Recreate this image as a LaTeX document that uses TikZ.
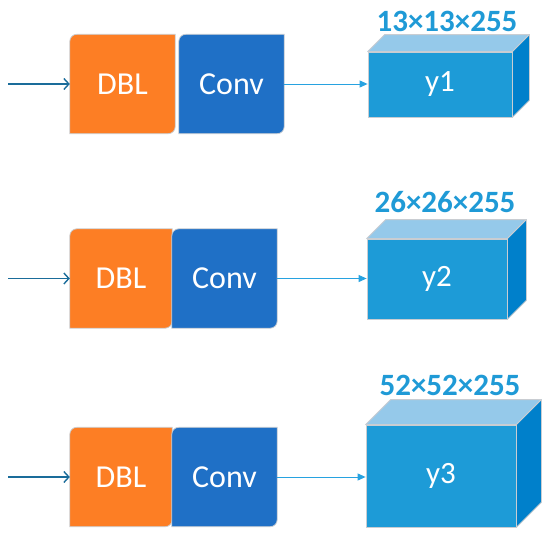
\documentclass[tikz,border=0pt]{standalone}
\usepackage{fontspec}
\setmainfont{Carlito}
\usepackage{tikz}
\usetikzlibrary{positioning, arrows.meta, calc}
\definecolor{dblorange}{HTML}{FD7E24}
\definecolor{convblue}{HTML}{1F70C6}
\definecolor{cubefront}{HTML}{1D9BD7}
\definecolor{cubetop}{HTML}{95C9EA}
\definecolor{cubeside}{HTML}{0080CB}
\definecolor{edgegray}{HTML}{C9CDD2}
\definecolor{inblue}{HTML}{1A6C9A}
\definecolor{outblue}{HTML}{27A2E0}
\definecolor{dimblue}{HTML}{1F9AD6}
\tikzset{
  layerbox/.style={
    rectangle, minimum width=#1, minimum height=99pt, inner sep=0pt,
    text=white, font=\fontsize{32}{34}\selectfont
  },
  featbox/.style={
    rectangle, draw=edgegray, line width=0.8pt, fill=cubefront, inner sep=0pt,
    text=white, font=\fontsize{31}{33}\selectfont
  },
  dimlabel/.style={font=\fontsize{31}{33}\selectfont\bfseries, text=dimblue},
  inarrow/.style={-{Straight Barb[length=5pt, width=11pt, line width=1.4pt]}, inblue, line width=1.6pt},
  outarrow/.style={-{Triangle[length=8pt, width=7pt]}, outblue, line width=1pt},
  cubeedge/.style={draw=edgegray, line width=0.8pt, line join=round}
}
% box with rounded top-left and bottom-right corners
\newcommand{\diagbox}[2]{%
  \draw[edgegray, line width=0.8pt, fill=#2]
    (#1.south west) -- ([yshift=-7pt]#1.north west)
    arc[start angle=180, end angle=90, radius=7pt]
    -- (#1.north east) -- ([yshift=7pt]#1.south east)
    arc[start angle=0, end angle=-90, radius=7pt] -- cycle;
}
% top and side faces of a feature cube
\newcommand{\cubefaces}[2]{%
  \fill[cubetop, cubeedge] (#1.north west) -- ++(#2pt,#2pt) -- ([shift={(#2pt,#2pt)}]#1.north east)
    -- (#1.north east) -- cycle;
  \fill[cubeside, cubeedge] (#1.north east) -- ++(#2pt,#2pt) -- ([shift={(#2pt,#2pt)}]#1.south east)
    -- (#1.south east) -- cycle;
}
\begin{document}
\begin{tikzpicture}[x=1pt, y=-1pt]
\useasboundingbox (0,0) rectangle (550,536);

% Row positions (y-coords of the box centres)
\def\yone{84}
\def\ytwo{278.5}
\def\ythree{477}

% ---- Row 1 ----
\node[layerbox=105pt] (dbl1) at (122.5, \yone) {};
\node[layerbox=105pt] (conv1) at (231.5, \yone) {};
\diagbox{dbl1}{dblorange}
\diagbox{conv1}{convblue}
\node[layerbox=105pt] at (dbl1) {DBL};
\node[layerbox=105pt] at (conv1) {Conv};

\node[featbox, minimum width=144pt, minimum height=65pt] (y1) at (440, 84.5) {};
\cubefaces{y1}{17}
\node[featbox, draw=none, fill=none] at (y1) {y1};
\node[dimlabel] (d1) at (447, 21) {13×13×255};

\coordinate (in1) at (8, \yone);
\draw[inarrow] (in1) -- (dbl1.west);
\draw[outarrow] (conv1.east) -- (conv1.east -| y1.west);

% ---- Row 2 ----
\node[layerbox=102pt] (dbl2) at (121, \ytwo) {};
\node[layerbox=105pt] (conv2) at (224.5, \ytwo) {};
\diagbox{dbl2}{dblorange}
\diagbox{conv2}{convblue}
\node[layerbox=102pt] at (dbl2) {DBL};
\node[layerbox=105pt] at (conv2) {Conv};

\node[featbox, minimum width=140pt, minimum height=80pt] (y2) at (437, 279) {};
\cubefaces{y2}{19}
\node[featbox, draw=none, fill=none] at (y2) {y2};
\node[dimlabel] (d2) at (445, 202) {26×26×255};

\coordinate (in2) at (8, \ytwo);
\draw[inarrow] (in2) -- (dbl2.west);
\draw[outarrow] (conv2.east) -- (conv2.east -| y2.west);

% ---- Row 3 ----
\node[layerbox=102pt] (dbl3) at (121, \ythree) {};
\node[layerbox=105pt] (conv3) at (224.5, \ythree) {};
\diagbox{dbl3}{dblorange}
\diagbox{conv3}{convblue}
\node[layerbox=102pt] at (dbl3) {DBL};
\node[layerbox=105pt] at (conv3) {Conv};

\node[featbox, minimum width=150pt, minimum height=102pt] (y3) at (441, 476) {};
\cubefaces{y3}{25}
\node[featbox, draw=none, fill=none] at (y3) {y3};
\node[dimlabel] (d3) at (450, 385) {52×52×255};

\coordinate (in3) at (8, \ythree);
\draw[inarrow] (in3) -- (dbl3.west);
\draw[outarrow] (conv3.east) -- (conv3.east -| y3.west);

\end{tikzpicture}
\end{document}
